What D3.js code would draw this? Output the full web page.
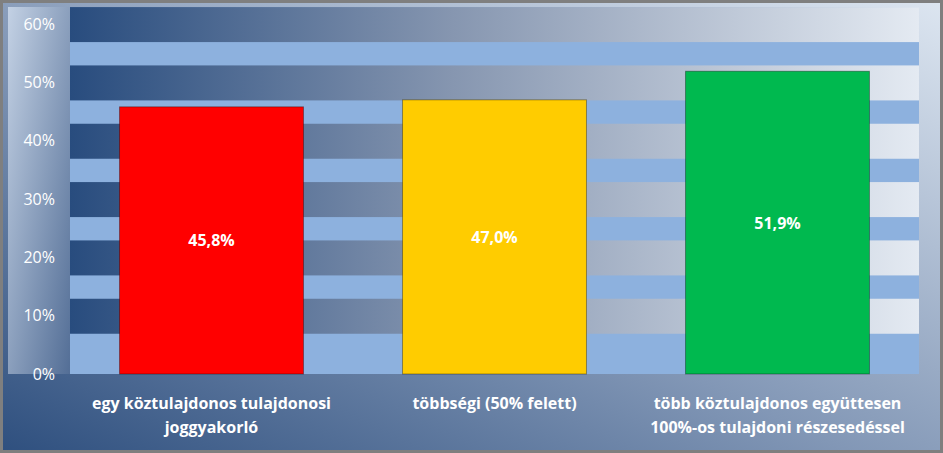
<!DOCTYPE html>
<html><head><meta charset="utf-8">
<script src="https://cdn.jsdelivr.net/npm/d3@7"></script>
<style>body{margin:0;background:#fff}text{font-family:"Open Sans",Calibri,Carlito,sans-serif}</style>
</head><body><div id="wrapper"></div>
<script>
const categories = ["egy köztulajdonos tulajdonosi|joggyakorló", "többségi (50% felett)", "több köztulajdonos együttesen|100%-os tulajdoni részesedéssel"]
const values = [45.8, 47.0, 51.9]
const labels = ["45,8%", "47,0%", "51,9%"]
const colors = ["#ff0000", "#ffcc00", "#00b94f"]
const ticks = [0, 10, 20, 30, 40, 50, 60]

const W = 943, H = 453
const plot = {left: 70, right: 919, top: 7, bottom: 374}

const svg = d3.select("#wrapper").append("svg").attr("width", W).attr("height", H)
const defs = svg.append("defs")

const bg = defs.append("linearGradient").attr("id", "bg").attr("x1", 0).attr("y1", 1).attr("x2", 1).attr("y2", 0)
bg.append("stop").attr("offset", "0%").attr("stop-color", "#2f507f")
bg.append("stop").attr("offset", "45%").attr("stop-color", "#8297b6")
bg.append("stop").attr("offset", "100%").attr("stop-color", "#dce5f0")

const dark = defs.append("linearGradient").attr("id", "dark")
dark.append("stop").attr("offset", "0%").attr("stop-color", "#284c7e")
dark.append("stop").attr("offset", "45%").attr("stop-color", "#8696b0")
dark.append("stop").attr("offset", "100%").attr("stop-color", "#e4eaf2")

const axisG = defs.append("linearGradient").attr("id", "axisbg").attr("x1", 0).attr("y1", 0).attr("x2", 1).attr("y2", 1)
axisG.append("stop").attr("offset", "0%").attr("stop-color", "#c3d1e4")
axisG.append("stop").attr("offset", "100%").attr("stop-color", "#536e96")

svg.append("rect").attr("width", W).attr("height", H).attr("fill", "#7f7f7f")
svg.append("rect").attr("x", 3).attr("y", 3).attr("width", W - 6).attr("height", H - 6).attr("fill", "url(#bg)")
svg.append("rect").attr("x", 8).attr("y", plot.top).attr("width", plot.left - 8).attr("height", plot.bottom - plot.top).attr("fill", "url(#axisbg)")

const yScale = d3.scaleLinear().domain([0, 60]).range([plot.bottom, 24])
const xScale = d3.scaleBand().domain(categories).range([plot.left, plot.right]).paddingInner(0.35).paddingOuter(0.175)

svg.append("clipPath").attr("id", "clip").append("rect")
  .attr("x", plot.left).attr("y", plot.top).attr("width", plot.right - plot.left).attr("height", plot.bottom - plot.top)

const bands = svg.append("g").attr("clip-path", "url(#clip)")
bands.append("rect").attr("x", plot.left).attr("y", plot.top).attr("width", plot.right - plot.left).attr("height", plot.bottom - plot.top).attr("fill", "#8db1de")
const step = yScale(0) - yScale(10)
bands.selectAll(".dark").data(ticks.slice(1)).join("rect")
  .attr("x", plot.left).attr("width", plot.right - plot.left)
  .attr("y", d => yScale(d) - step * 0.29).attr("height", step * 0.6)
  .attr("fill", "url(#dark)")

svg.append("g").attr("transform", `translate(${plot.left - 12},0)`)
  .call(d3.axisLeft(yScale).tickValues(ticks).tickFormat(d => d + "%").tickSize(0))
  .call(g => g.select(".domain").remove())
  .call(g => g.selectAll("text").attr("fill", "#fff").attr("font-size", 16).attr("font-family", "'Open Sans',sans-serif"))

const bars = svg.append("g")
bars.selectAll("rect").data(values).join("rect")
  .attr("x", (d, i) => xScale(categories[i]))
  .attr("width", xScale.bandwidth())
  .attr("y", d => yScale(d)).attr("height", d => yScale(0) - yScale(d))
  .attr("fill", (d, i) => colors[i])
  .attr("stroke", "rgba(0,0,0,0.35)")

bars.selectAll("text").data(values).join("text")
  .attr("x", (d, i) => xScale(categories[i]) + xScale.bandwidth() / 2)
  .attr("y", d => (yScale(d) + yScale(0)) / 2 + 6)
  .attr("text-anchor", "middle").attr("fill", "#fff")
  .attr("font-size", 16).attr("font-weight", "bold")
  .text((d, i) => labels[i])

const xl = svg.append("g")
categories.forEach(c => {
  const t = xl.append("text").attr("x", xScale(c) + xScale.bandwidth() / 2).attr("y", 409)
    .attr("text-anchor", "middle").attr("fill", "#fff").attr("font-size", 16).attr("font-weight", "bold")
  c.split("|").forEach((line, j) => t.append("tspan").attr("x", xScale(c) + xScale.bandwidth() / 2).attr("dy", j ? 24 : 0).text(line))
})
</script></body></html>
